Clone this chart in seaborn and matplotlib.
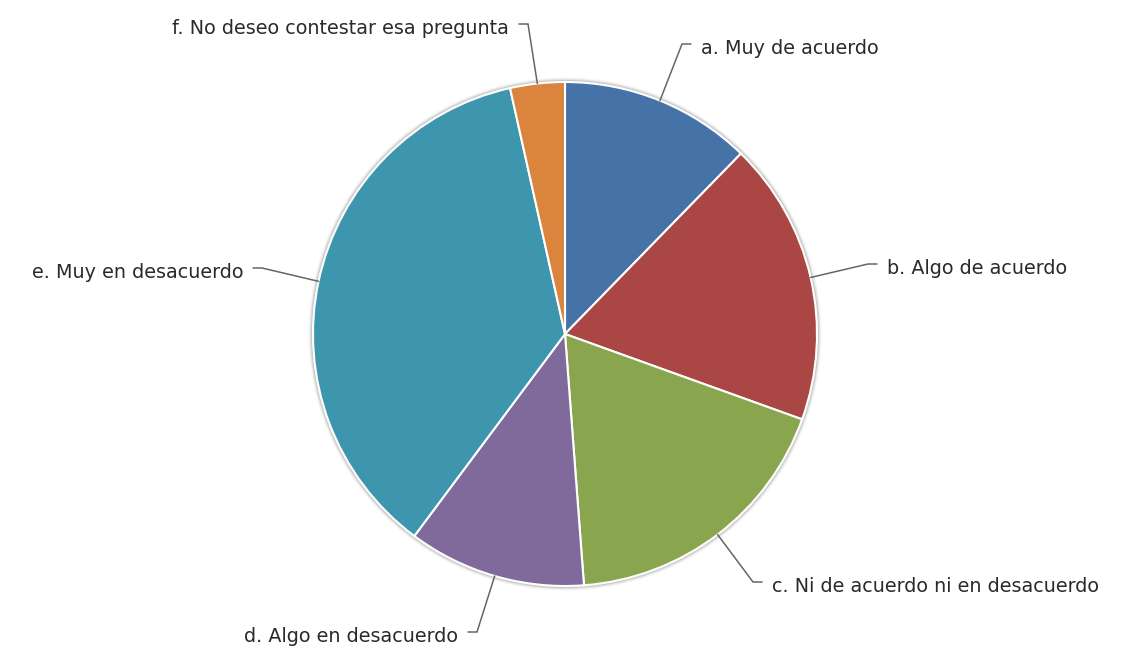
import numpy as np
import matplotlib
matplotlib.use("Agg")
import matplotlib.pyplot as plt
from matplotlib.patches import Circle
import seaborn as sns

# Survey answers and their share of responses (%)
categories = [
    "a. Muy de acuerdo",
    "b. Algo de acuerdo",
    "c. Ni de acuerdo ni en desacuerdo",
    "d. Algo en desacuerdo",
    "e. Muy en desacuerdo",
    "f. No deseo contestar esa pregunta",
]
shares = [12.3, 18.2, 18.3, 11.4, 36.3, 3.5]
colors = ["#4572A7", "#AA4643", "#89A54E", "#80699B", "#3D96AE", "#DB843D"]

# Where each connector bends before its label (pixel layout, y from top)
label_bends = [(682, 44), (868, 264), (753, 582), (477, 632), (262, 268), (528, 24)]

W, H = 1131, 647
CX, CY, R = 565, 647 - 334, 252

sns.set_theme(style="white")
plt.rcParams["font.family"] = ["DejaVu Sans"]

fig = plt.figure(figsize=(W / 100, H / 100), dpi=100)
ax = fig.add_axes([0, 0, 1, 1])

# soft outline around the pie
for lw, a in [(5, 0.15), (3, 0.35), (1.5, 0.6)]:
    ax.add_patch(Circle((CX, CY), R + 1, facecolor="none", edgecolor="#bbbbbb",
                        lw=lw, alpha=a, zorder=0))

wedges, _ = ax.pie(
    shares,
    colors=colors,
    startangle=90,
    counterclock=False,
    center=(CX, CY),
    radius=R,
    wedgeprops=dict(edgecolor="white", linewidth=1.5),
    frame=True,
)
ax.set_xlim(0, W)
ax.set_ylim(0, H)
ax.set_aspect("equal")
ax.axis("off")

for w, label, (bx, by) in zip(wedges, categories, label_bends):
    mid = np.deg2rad((w.theta1 + w.theta2) / 2)
    ex, ey = CX + R * np.cos(mid), CY + R * np.sin(mid)
    by = H - by
    right = bx > CX
    hx = bx + 9 if right else bx - 9
    ax.plot([ex, bx, hx], [ey, by, by], color="#666666", lw=1.1, zorder=3,
            solid_joinstyle="miter")
    tx = hx + 10 if right else hx - 10
    ax.text(tx, by - 4, label, ha="left" if right else "right", va="center",
            fontsize=13.8, color="#2a2a2a")

fig.savefig("out.png", dpi=100)
